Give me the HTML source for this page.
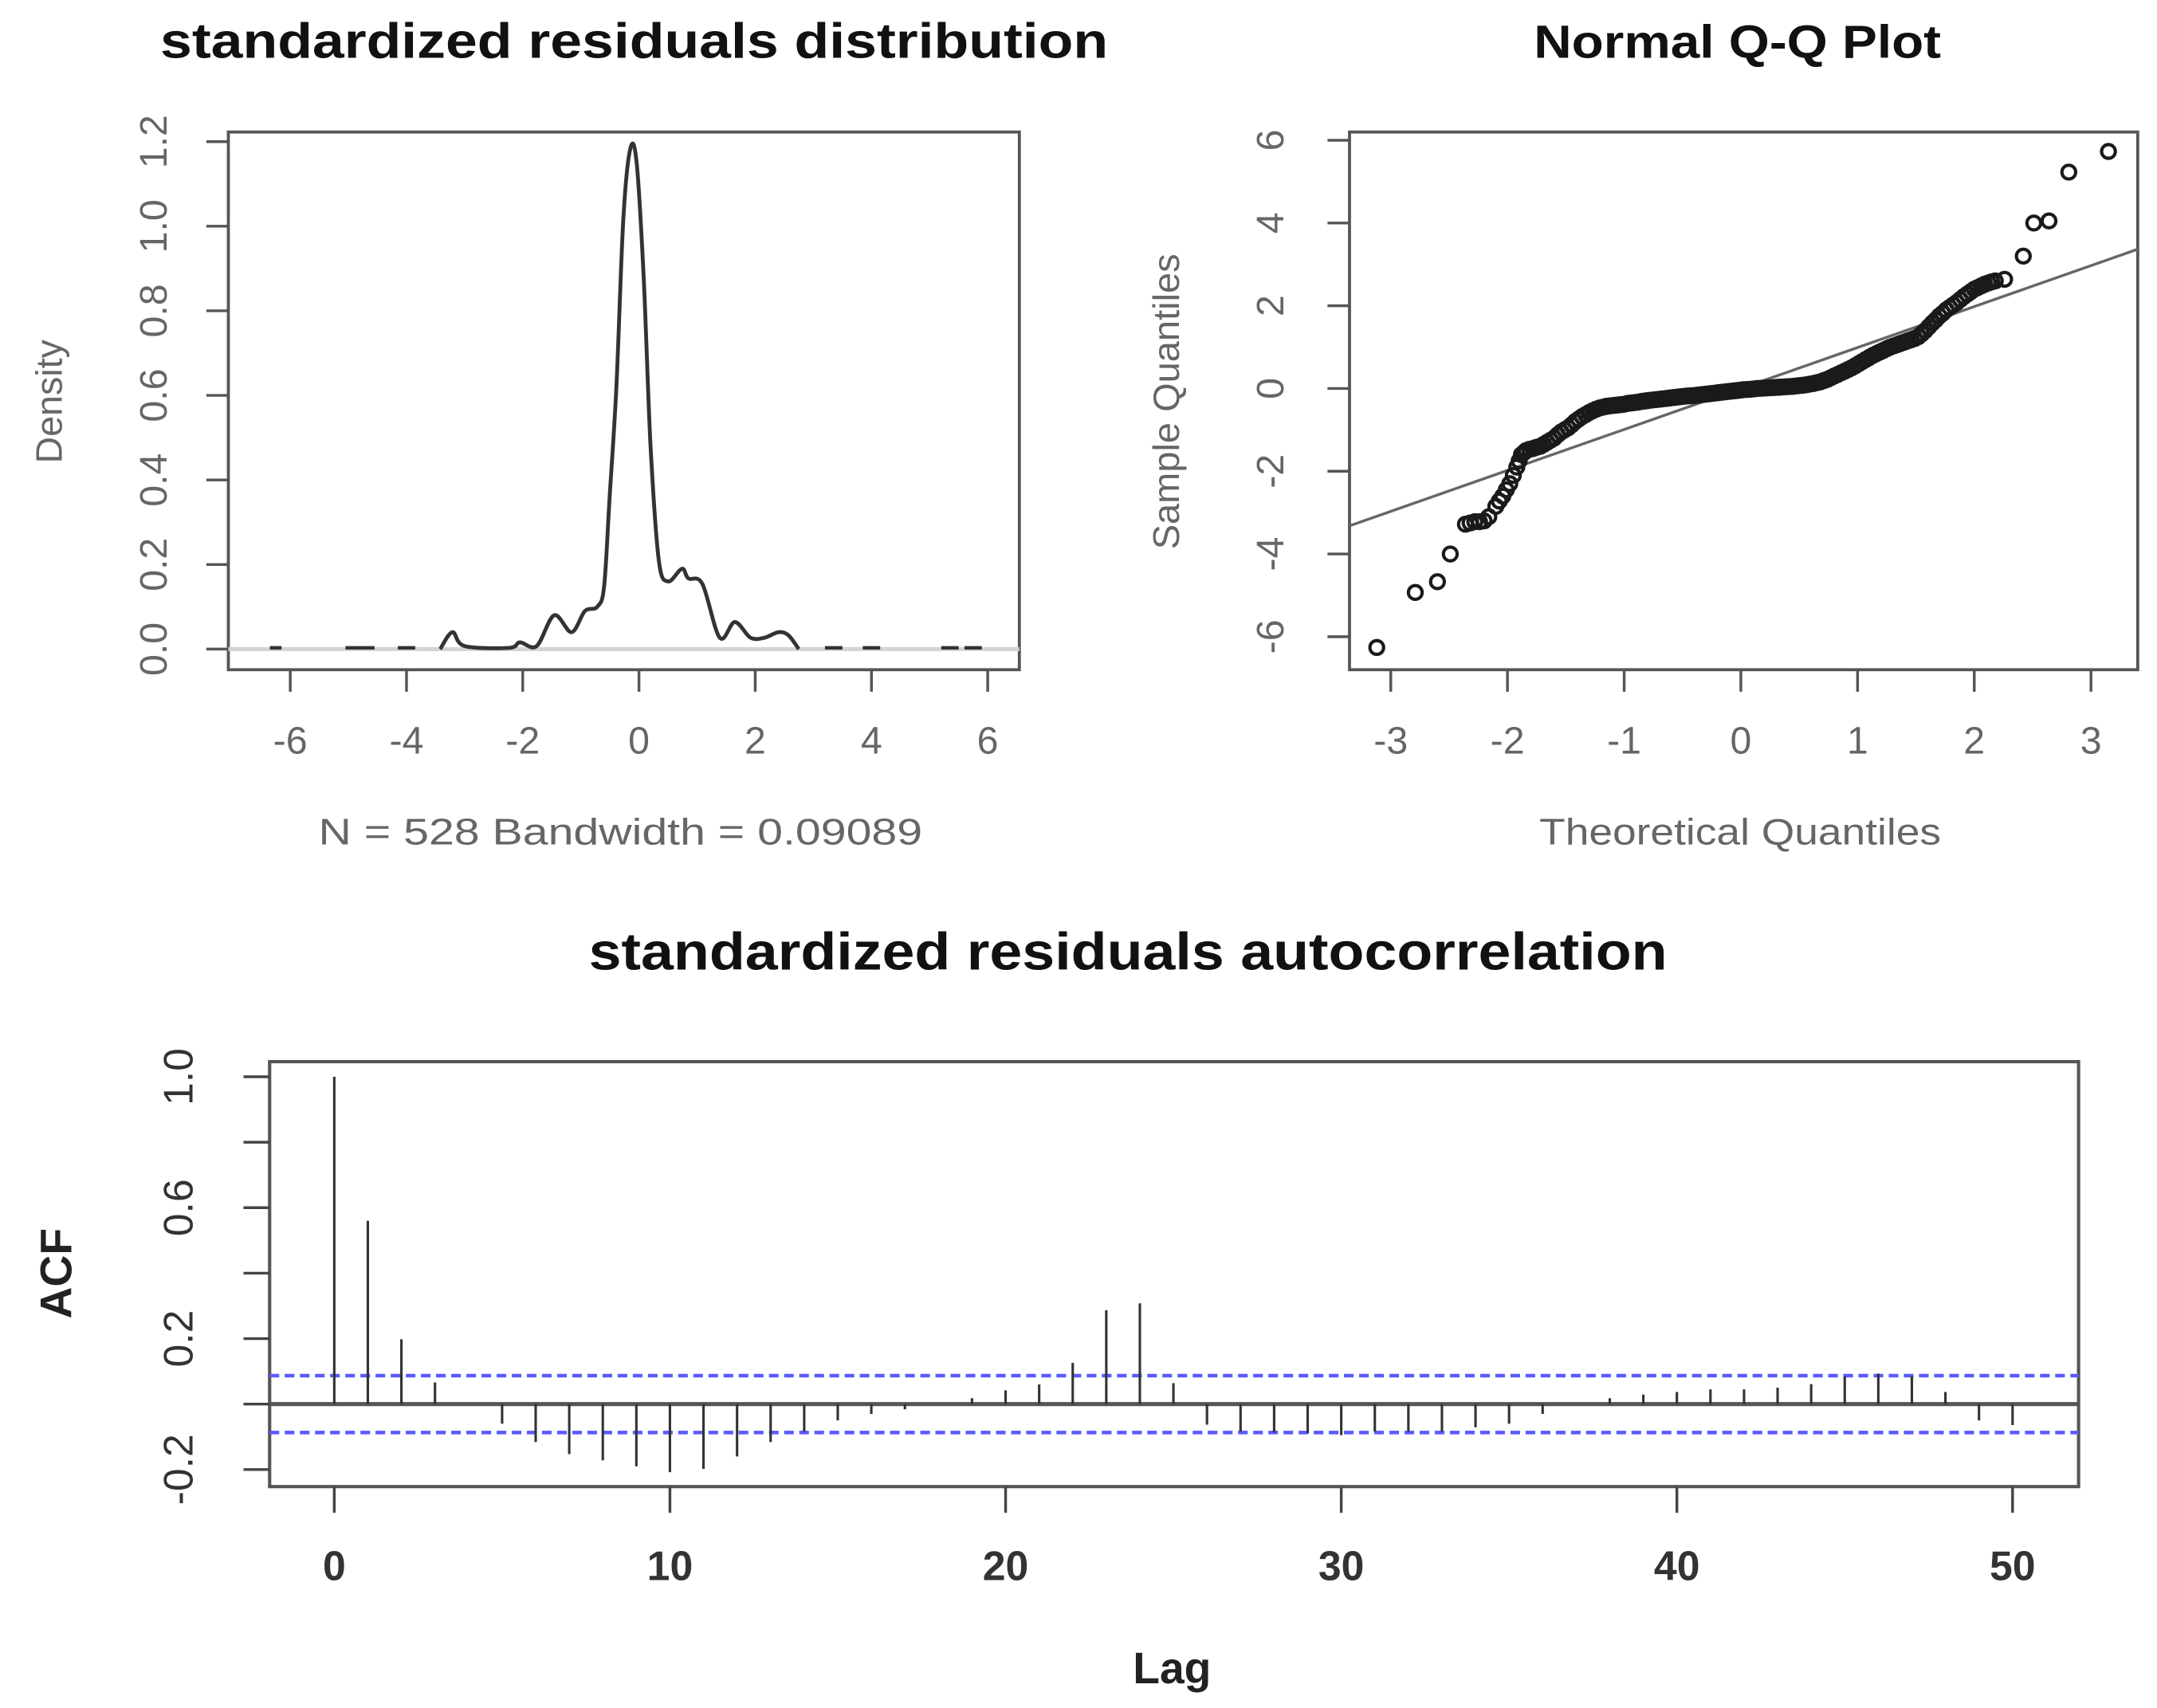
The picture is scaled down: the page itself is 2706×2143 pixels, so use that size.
<!DOCTYPE html>
<html>
<head>
<meta charset="utf-8">
<style>
html,body{margin:0;padding:0;background:#fff;}
svg{display:block;}
text{font-family:"Liberation Sans",sans-serif;}
</style>
</head>
<body>
<svg id="fig" xmlns="http://www.w3.org/2000/svg" width="2706" height="2143" viewBox="0 0 1568 1242" preserveAspectRatio="none">
<rect x="0" y="0" width="1568" height="1242" fill="#fff"/>
<text x="461" y="42" text-anchor="middle" font-size="36" font-weight="bold" fill="#111" textLength="689" lengthAdjust="spacingAndGlyphs">standardized residuals distribution</text>
<text x="1263" y="42" text-anchor="middle" font-size="34" font-weight="bold" fill="#111" textLength="296" lengthAdjust="spacingAndGlyphs">Normal Q-Q Plot</text>
<text x="820" y="705" text-anchor="middle" font-size="38" font-weight="bold" fill="#111" textLength="784" lengthAdjust="spacingAndGlyphs">standardized residuals autocorrelation</text>
<text transform="translate(45,292) rotate(-90)" text-anchor="middle" font-size="27" fill="#666">Density</text>
<text x="451" y="614" text-anchor="middle" font-size="27" fill="#666" textLength="439" lengthAdjust="spacingAndGlyphs">N = 528   Bandwidth = 0.09089</text>
<text transform="translate(857,292) rotate(-90)" text-anchor="middle" font-size="27" fill="#666" textLength="215" lengthAdjust="spacingAndGlyphs">Sample Quantiles</text>
<text x="1265" y="614" text-anchor="middle" font-size="27" fill="#666" textLength="292" lengthAdjust="spacingAndGlyphs">Theoretical Quantiles</text>
<text transform="translate(52,926) rotate(-90)" text-anchor="middle" font-size="32" font-weight="bold" fill="#222">ACF</text>
<text x="852" y="1224" text-anchor="middle" font-size="32" font-weight="bold" fill="#222">Lag</text>
<g id="g1"></g>
<g id="g2"></g>
<g id="g3"></g>
</svg>
<script>
// ---------- data ----------
const densX = [-3.42,-3.21,-3.0,-2.23,-2.05,-1.76,-1.46,-1.16,-0.93,-0.72,-0.60,-0.51,-0.39,-0.27,-0.15,-0.04,0.08,0.20,0.34,0.50,0.74,0.85,1.09,1.39,1.65,1.92,2.16,2.40,2.57,2.75];
const densY = [0,0.04,0.007,0.003,0.016,0.007,0.08,0.04,0.09,0.10,0.147,0.35,0.615,1.016,1.183,1.15,0.88,0.48,0.21,0.16,0.19,0.167,0.154,0.027,0.064,0.027,0.027,0.04,0.033,0];
const densTailStart = [-6.35,-5.05,-4.15,3.2,3.85,5.2,5.6];
const densTailEnd = [-6.15,-4.55,-3.85,3.5,4.15,5.5,5.9];
const densXTicks = [-6,-4,-2,0,2,4,6];
const densYTicks = [0,0.2,0.4,0.6,0.8,1.0,1.2];
const densYLabels = ["0.0","0.2","0.4","0.6","0.8","1.0","1.2"];

const qqTheo = [-3.12,-2.79,-2.60,-2.49,-2.36,-2.32,-2.28,-2.24,-2.20,-2.16,
 -2.10,-2.04,-1.98,-1.92,-1.88,-1.84,-1.78,-1.72,-1.66,-1.60,-1.54,-1.48,-1.42,-1.36,-1.30,-1.24,-1.18,-1.12,-1.06,-1.00,
 -0.94,-0.88,-0.82,-0.76,-0.70,-0.64,-0.58,-0.52,-0.46,-0.40,-0.34,-0.28,-0.22,-0.16,-0.10,-0.04,0.02,0.08,0.14,0.20,
 0.26,0.32,0.38,0.44,0.50,0.56,0.62,0.68,0.74,0.80,0.86,0.92,0.98,1.04,1.10,1.16,1.22,1.28,1.34,1.40,
 1.46,1.52,1.58,1.64,1.70,1.76,1.82,1.88,1.94,2.00,2.06,2.12,2.18,2.26,2.42,2.51,2.64,2.81,3.15,
 -2.07,-2.01,-1.95,-1.90,-1.86,-1.81,-1.75,-1.69,-1.63,-1.57,-1.51,-1.45,-1.39,-1.33,-1.27,-1.21,-1.15,-1.09,-1.03,-0.97,
 -0.91,-0.85,-0.79,-0.73,-0.67,-0.61,-0.55,-0.49,-0.43,-0.37,-0.31,-0.25,-0.19,-0.13,-0.07,-0.01,0.05,0.11,0.17,0.23,
 0.29,0.35,0.41,0.47,0.53,0.59,0.65,0.71,0.77,0.83,0.89,0.95,1.01,1.07,1.13,1.19,1.25,1.31,1.37,1.43,
 1.49,1.55,1.61,1.67,1.73,1.79,1.85,1.91,1.97,2.03,2.09,2.15];
const qqSample = [-6.26,-4.93,-4.67,-4.0,-3.28,-3.25,-3.22,-3.22,-3.2,-3.1,
 -2.85,-2.6,-2.3,-1.9,-1.6,-1.5,-1.45,-1.4,-1.3,-1.2,-1.05,-0.95,-0.8,-0.68,-0.58,-0.5,-0.45,-0.42,-0.40,-0.38,
 -0.35,-0.33,-0.30,-0.28,-0.26,-0.24,-0.22,-0.20,-0.18,-0.17,-0.15,-0.13,-0.11,-0.09,-0.07,-0.05,-0.03,-0.02,0.0,0.01,
 0.02,0.03,0.04,0.05,0.07,0.09,0.12,0.16,0.22,0.30,0.38,0.46,0.55,0.65,0.75,0.84,0.92,1.0,1.06,1.12,
 1.18,1.25,1.40,1.58,1.75,1.90,2.02,2.15,2.28,2.40,2.48,2.55,2.60,2.64,3.2,4.0,4.05,5.23,5.73,
 -2.72,-2.45,-2.1,-1.75,-1.55,-1.47,-1.42,-1.35,-1.25,-1.12,-1.0,-0.88,-0.74,-0.63,-0.54,-0.47,-0.43,-0.41,-0.39,-0.36,
 -0.34,-0.31,-0.29,-0.27,-0.25,-0.23,-0.21,-0.19,-0.175,-0.16,-0.14,-0.12,-0.10,-0.08,-0.06,-0.04,-0.025,-0.01,0.005,0.015,
 0.025,0.035,0.045,0.06,0.08,0.105,0.14,0.19,0.26,0.34,0.42,0.5,0.6,0.7,0.8,0.88,0.96,1.03,1.09,1.15,
 1.21,1.32,1.49,1.66,1.82,1.96,2.08,2.22,2.34,2.44,2.52,2.58];
const qqLineSlope = [0.99];
const qqLineIntercept = [0.0];
const qqXTicks = [-3,-2,-1,0,1,2,3];
const qqYTicks = [-6,-4,-2,0,2,4,6];

const acfLags = [0,1,2,3,4,5,6,7,8,9,10,11,12,13,14,15,16,17,18,19,20,21,22,23,24,25,26,27,28,29,30,31,32,33,34,35,36,37,38,39,40,41,42,43,44,45,46,47,48,49,50];
const acfValues = [1.0,0.56,0.198,0.066,0.0,-0.06,-0.116,-0.153,-0.172,-0.19,-0.208,-0.198,-0.16,-0.116,-0.084,-0.05,-0.03,-0.016,0,0.018,0.042,0.06,0.126,0.287,0.308,0.064,-0.063,-0.084,-0.087,-0.089,-0.095,-0.084,-0.084,-0.084,-0.071,-0.06,-0.03,0,0.018,0.029,0.037,0.045,0.045,0.05,0.061,0.085,0.093,0.085,0.037,-0.05,-0.064];
const acfBound = [0.087];
const acfXTicks = [0,10,20,30,40,50];
const acfYTicks = [-0.2,0,0.2,0.4,0.6,0.8,1.0];
const acfYLabelVals = [-0.2,0.2,0.6,1.0];
const acfYLabels = ["-0.2","0.2","0.6","1.0"];

// ---------- helpers ----------
const NS = "http://www.w3.org/2000/svg";
function mk(parent, tag, attrs){
  const e = document.createElementNS(NS, tag);
  for (const k in attrs) e.setAttribute(k, attrs[k]);
  parent.appendChild(e);
  return e;
}
function lin(d0,d1,r0,r1){ return v => r0 + (v-d0)*(r1-r0)/(d1-d0); }
function smoothPath(pts){
  let d = 'M'+pts[0][0].toFixed(1)+','+pts[0][1].toFixed(1);
  for (let i=0;i<pts.length-1;i++){
    const p0=pts[Math.max(0,i-1)], p1=pts[i], p2=pts[i+1], p3=pts[Math.min(pts.length-1,i+2)];
    const c1x=p1[0]+(p2[0]-p0[0])/6, c1y=p1[1]+(p2[1]-p0[1])/6;
    const c2x=p2[0]-(p3[0]-p1[0])/6, c2y=p2[1]-(p3[1]-p1[1])/6;
    d += ` C${c1x.toFixed(1)},${c1y.toFixed(1)} ${c2x.toFixed(1)},${c2y.toFixed(1)} ${p2[0].toFixed(1)},${p2[1].toFixed(1)}`;
  }
  return d;
}

// ---------- density plot ----------
(function(){
  const g = document.getElementById('g1');
  const X = lin(0,6,464.5,718), Y = lin(0,1.2,472,103);
  const box = mk(g,'rect',{x:166,y:96,width:575,height:391,fill:'none',stroke:'#555','stroke-width':2.2});
  
  
  const zl = mk(g,'line',{x1:166,x2:741,y1:Y(0),y2:Y(0),stroke:'#d4d4d4','stroke-width':3});
  
  
  densXTicks.forEach(t=>{
    const l = mk(g,'line',{x1:X(t),x2:X(t),y1:487,y2:503,stroke:'#555','stroke-width':2});
    
    
    const tx = mk(g,'text',{x:X(t),y:548,'text-anchor':'middle','font-size':28,fill:'#666'});
    tx.textContent = t;
    
    
  });
  densYTicks.forEach((t,i)=>{
    const l = mk(g,'line',{x1:150,x2:166,y1:Y(t),y2:Y(t),stroke:'#555','stroke-width':2});
    
    
    const tx = mk(g,'text',{transform:`translate(121,${Y(t)}) rotate(-90)`,'text-anchor':'middle','font-size':28,fill:'#666'});
    tx.textContent = densYLabels[i];
    
    
  });
  const pts = densX.map((x,i)=>[X(x),Y(densY[i])]);
  const p = mk(g,'path',{d:smoothPath(pts),fill:'none',stroke:'#333','stroke-width':2.8,'stroke-linejoin':'round'});
  
  
  densTailStart.forEach((s,i)=>{
    const l = mk(g,'line',{x1:X(s),x2:X(densTailEnd[i]),y1:Y(0.003),y2:Y(0.003),stroke:'#333','stroke-width':2.6});
    
    
  });
})();

// ---------- QQ plot ----------
(function(){
  const g = document.getElementById('g2');
  const X = lin(0,3,1265.5,1520), Y = lin(0,6,282.5,102);
  const box = mk(g,'rect',{x:981,y:96,width:573,height:391,fill:'none',stroke:'#555','stroke-width':2.2});
  
  
  qqXTicks.forEach(t=>{
    const l = mk(g,'line',{x1:X(t),x2:X(t),y1:487,y2:503,stroke:'#555','stroke-width':2});
    
    
    const tx = mk(g,'text',{x:X(t),y:548,'text-anchor':'middle','font-size':28,fill:'#666'});
    tx.textContent = t;
    
    
  });
  qqYTicks.forEach(t=>{
    const l = mk(g,'line',{x1:965,x2:981,y1:Y(t),y2:Y(t),stroke:'#555','stroke-width':2});
    
    
    const tx = mk(g,'text',{transform:`translate(933,${Y(t)}) rotate(-90)`,'text-anchor':'middle','font-size':28,fill:'#666'});
    tx.textContent = t;
    
    
  });
  const cp = mk(g,'clipPath',{id:'qqclip'});
  mk(cp,'rect',{x:981,y:96,width:573,height:391});
  const x0=-3.5, x1=3.5;
  const ql = mk(g,'line',{x1:X(x0),y1:Y(qqLineSlope[0]*x0+qqLineIntercept[0]),x2:X(x1),y2:Y(qqLineSlope[0]*x1+qqLineIntercept[0]),stroke:'#666','stroke-width':2,'clip-path':'url(#qqclip)'});
  
  
  qqTheo.forEach((t,i)=>{
    const c = mk(g,'circle',{cx:X(t),cy:Y(qqSample[i]),r:5,fill:'none',stroke:'#1a1a1a','stroke-width':2.4});
    
    
  });
})();

// ---------- ACF plot ----------
(function(){
  const g = document.getElementById('g3');
  const X = lin(0,50,243,1463), Y = lin(0,1,1021,783);
  const box = mk(g,'rect',{x:196,y:772,width:1315,height:309,fill:'none',stroke:'#555','stroke-width':2.4});
  
  
  const zl = mk(g,'line',{x1:196,x2:1511,y1:Y(0),y2:Y(0),stroke:'#555','stroke-width':3});
  
  
  [acfBound[0],-acfBound[0]].forEach(b=>{
    const l = mk(g,'line',{x1:196,x2:1511,y1:Y(b),y2:Y(b),stroke:'#5a5aff','stroke-width':2.6,'stroke-dasharray':'7 4'});
    
    
  });
  acfLags.forEach((lag,i)=>{
    const l = mk(g,'line',{x1:X(lag),x2:X(lag),y1:Y(0),y2:Y(acfValues[i]),stroke:'#333','stroke-width':1.8});
    
    
  });
  acfXTicks.forEach(t=>{
    const l = mk(g,'line',{x1:X(t),x2:X(t),y1:1081,y2:1100,stroke:'#444','stroke-width':2});
    
    
    const tx = mk(g,'text',{x:X(t),y:1149,'text-anchor':'middle','font-size':30,'font-weight':'bold',fill:'#333'});
    tx.textContent = t;
    
    
  });
  acfYTicks.forEach(t=>{
    const l = mk(g,'line',{x1:177,x2:196,y1:Y(t),y2:Y(t),stroke:'#444','stroke-width':2});
    
    
  });
  acfYLabelVals.forEach((t,i)=>{
    const tx = mk(g,'text',{transform:`translate(140,${Y(t)}) rotate(-90)`,'text-anchor':'middle','font-size':30,fill:'#333'});
    tx.textContent = acfYLabels[i];
    
    
  });
})();
</script>
</body>
</html>
